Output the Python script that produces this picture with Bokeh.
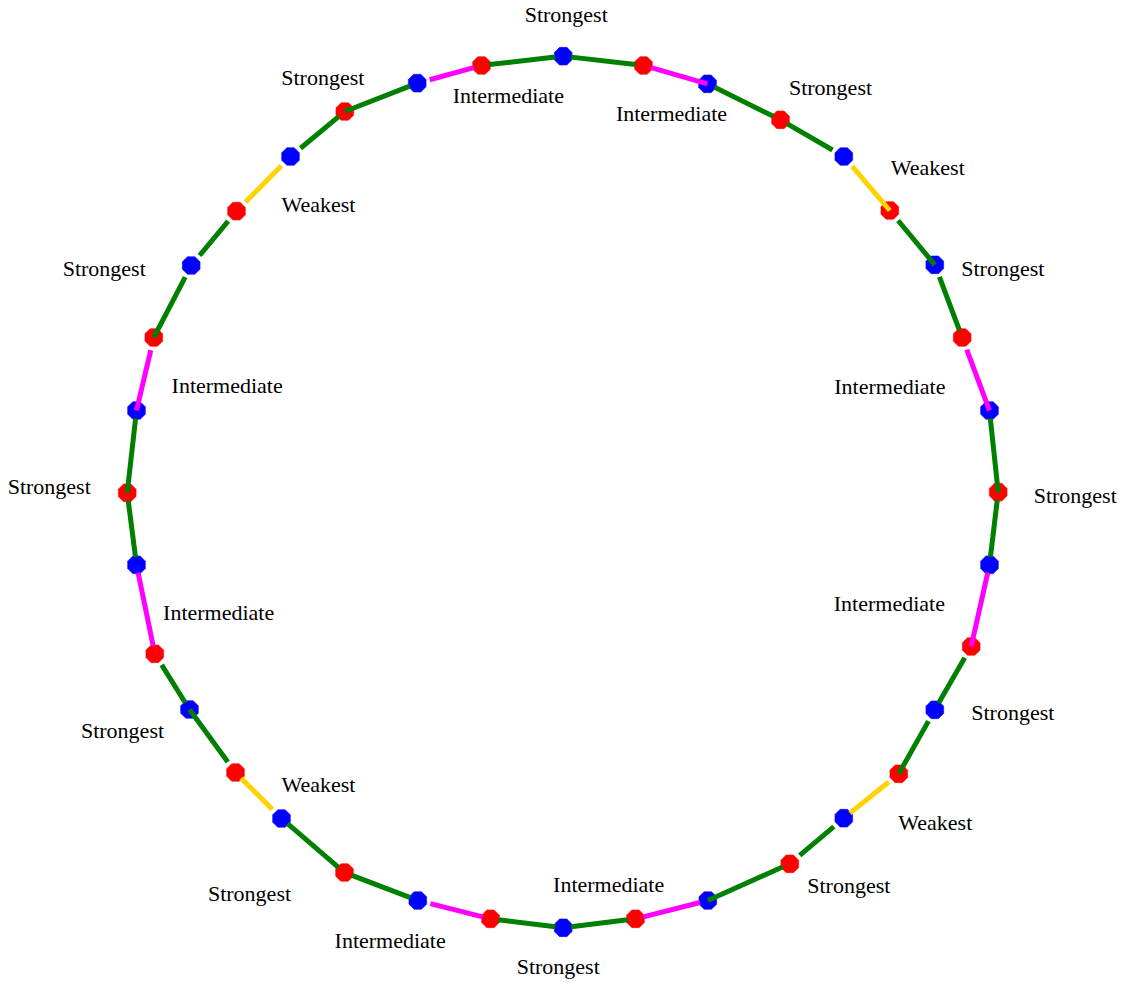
import numpy as np
from bokeh.plotting import figure
from bokeh.models import ColumnDataSource, Range1d
from bokeh.core.properties import value
from bokeh.embed import file_html
from bokeh.resources import INLINE

# ---------------- data ----------------
# ring of 36 nodes, clockwise from the top; layout positions
node_type = ["B", "R", "B", "R", "B", "R", "B", "R", "B", "R", "B", "R",
             "B", "R", "B", "R", "B", "R", "B", "R", "B", "R", "B", "R",
             "B", "R", "B", "R", "B", "R", "B", "R", "B", "R", "B", "R"]
node_x = [0.2, 80.5, 144.5, 217.5, 280.8, 326.8, 371.8, 399.2, 426.5, 435.2, 426.5, 408.2,
          371.8, 335.8, 280.8, 226.8, 144.8, 72.5, 0.2, -72.5, -145.2, -218.5, -281.5, -327.5,
          -373.5, -408.2, -426.5, -435.8, -426.5, -409.2, -371.8, -326.5, -272.5, -218.2, -145.8, -81.5]
node_y = [435.8, 426.5, 408.2, 372.2, 335.5, 281.5, 227.2, 154.5, 81.5, -0.2, -72.8, -154.5,
          -217.8, -281.8, -326.2, -371.8, -408.5, -426.8, -435.8, -426.8, -408.5, -380.5, -326.5, -280.5,
          -217.5, -161.8, -72.8, -0.8, 81.5, 154.5, 226.5, 280.8, 335.5, 380.5, 408.8, 426.5]
# edge k joins node k and node k+1 (mod 36)
edge_strength = ["Strongest", "Intermediate", "Strongest", "Strongest", "Weakest", "Strongest",
                 "Strongest", "Intermediate", "Strongest", "Strongest", "Intermediate", "Strongest",
                 "Strongest", "Weakest", "Strongest", "Strongest", "Intermediate", "Strongest",
                 "Strongest", "Intermediate", "Strongest", "Strongest", "Weakest", "Strongest",
                 "Strongest", "Intermediate", "Strongest", "Strongest", "Intermediate", "Strongest",
                 "Strongest", "Weakest", "Strongest", "Strongest", "Intermediate", "Strongest"]
# labels: text, anchor kind, anchor index
label_text = ["Strongest"] * 12 + ["Intermediate"] * 8 + ["Weakest"] * 4
label_anchor_kind = ["node"] * 12 + ["edge"] * 12
label_anchor_index = [0, 3, 6, 9, 12, 15, 18, 21, 24, 27, 30, 33,
                      1, 7, 10, 16, 19, 25, 28, 34,
                      4, 13, 22, 31]

# ---------------- layout / style ----------------
label_dx = [3, 50, 68, 77, 78, 59, -5, -95, -67, -78, -87, -22,
            -4, -86, -91, -63, -64, 73, 82, 59,
            61, 64, 60, 55]
label_dy = [-42, -32, 4, 3, 3, 22, 39, 21, 21, -6, 3, -34,
            39, 12, -2, -25, 31, 3, 11, 21,
            -16, 26, -11, 21]
# how each edge end meets its node: O = runs to the centre over the node,
# T = touches the node, G = stops short leaving a small gap
edge_end_start = ["T", "T", "T", "T", "G", "G", "G", "G", "T", "T", "T", "G",
                  "G", "G", "G", "T", "T", "T", "T", "T", "T", "T", "G", "G",
                  "T", "T", "T", "O", "O", "O", "G", "G", "G", "O", "G", "T"]
edge_end_stop = ["T", "O", "T", "G", "O", "O", "T", "O", "O", "T", "O", "T",
                 "O", "T", "G", "O", "T", "T", "T", "G", "T", "T", "T", "O",
                 "G", "T", "T", "T", "G", "G", "G", "G", "T", "T", "T", "T"]
trim_px = {"O": 0.0, "T": 8.0, "G": 13.0}
node_colors = {"B": "#0000FF", "R": "#FF0000"}
edge_colors = {"Strongest": "#008000", "Intermediate": "#FF00FF", "Weakest": "#FFD200"}
NODE_R = 9.6   # octagon circumradius, px

W, H = 1117, 980
CX, CY = 562.5, 491.5  # canvas position of the ring centre (1 data unit = 1 px)

nx = np.array(node_x)
ny = np.array(node_y)
n = len(node_type)

x0s, y0s, x1s, y1s = [], [], [], []
for k in range(n):
    j = (k + 1) % n
    dx, dy = nx[j] - nx[k], ny[j] - ny[k]
    L = np.hypot(dx, dy)
    ux, uy = dx / L, dy / L
    a = trim_px[edge_end_start[k]]
    b = trim_px[edge_end_stop[k]]
    x0s.append(nx[k] + ux * a); y0s.append(ny[k] + uy * a)
    x1s.append(nx[j] - ux * b); y1s.append(ny[j] - uy * b)
edge_src = ColumnDataSource(dict(x0=x0s, y0=y0s, x1=x1s, y1=y1s,
                                 color=[edge_colors[s] for s in edge_strength]))

ang = np.deg2rad(22.5 + 45.0 * np.arange(8))
oct_xs = [list(x + NODE_R * np.cos(ang)) for x in nx]
oct_ys = [list(y + NODE_R * np.sin(ang)) for y in ny]
node_src = ColumnDataSource(dict(xs=oct_xs, ys=oct_ys,
                                 color=[node_colors[t] for t in node_type]))

lx, ly = [], []
for kind, idx, dx, dy in zip(label_anchor_kind, label_anchor_index, label_dx, label_dy):
    if kind == "node":
        ax, ay = nx[idx], ny[idx]
    else:
        j = (idx + 1) % n
        ax, ay = (nx[idx] + nx[j]) / 2, (ny[idx] + ny[j]) / 2
    lx.append(ax + dx)
    ly.append(ay - dy)
label_src = ColumnDataSource(dict(x=lx, y=ly, text=label_text))

p = figure(width=W, height=H, output_backend="svg", toolbar_location=None,
           x_range=Range1d(-CX, W - CX), y_range=Range1d(-(H - CY), CY),
           min_border=0, x_axis_location=None, y_axis_location=None)
p.grid.visible = False
p.outline_line_color = None
p.background_fill_color = "white"
p.border_fill_color = "white"

p.patches("xs", "ys", source=node_src, fill_color="color", line_color="color", line_width=0.5)
p.segment("x0", "y0", "x1", "y1", source=edge_src, line_color="color", line_width=5,
          line_cap="butt")
p.text("x", "y", text="text", source=label_src, text_font=value("Liberation Serif"),
       text_font_size="22px", text_color="black", text_align="center",
       text_baseline="middle")

open("out.html", "w").write(file_html(p, INLINE))
